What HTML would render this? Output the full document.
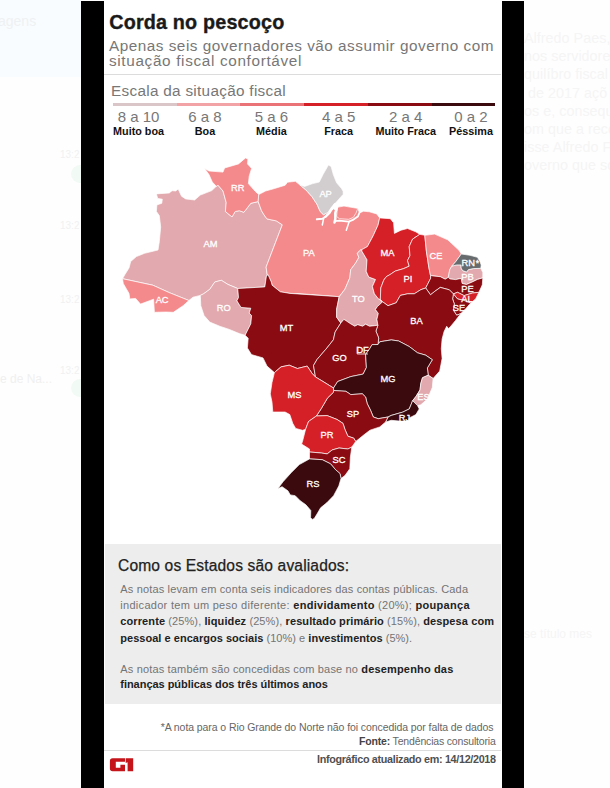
<!DOCTYPE html>
<html><head><meta charset="utf-8"><title>Corda no pescoço</title>
<style>
html,body{margin:0;padding:0;}
body{width:610px;height:788px;position:relative;overflow:hidden;background:#fefefe;font-family:"Liberation Sans",sans-serif;}
.bar{position:absolute;top:1px;height:787px;background:#000;}
.card{position:absolute;left:104px;top:0;width:398px;height:788px;background:#fff;}
.t{position:absolute;white-space:nowrap;line-height:20px;height:20px;}
.t b{color:#222;font-weight:700;}
#f2 b{color:#444;}
.map{position:absolute;left:0;top:0;}
.rule{position:absolute;height:1px;background:#dcdcdc;}
.seg{position:absolute;top:102.5px;height:3px;}
#h{-webkit-text-stroke:0.25px #222;}
#t1{-webkit-text-stroke:0.35px #1a1a1a;}
.ghost{position:absolute;color:#f3f3f3;white-space:nowrap;font-size:15px;line-height:18px;}
</style></head><body>
<div class="ghost" style="left:0;top:0;width:81px;height:77px;background:#f9fcfe"></div>
<div class="ghost" style="left:-2px;top:12px;font-size:14px;color:#eef1f3">agens</div>
<div class="ghost" style="left:60px;top:146px;font-size:10px;color:#f1f1f1">13:2</div>
<div class="ghost" style="left:60px;top:217px;font-size:10px;color:#f1f1f1">13:2</div>
<div class="ghost" style="left:60px;top:291px;font-size:10px;color:#f1f1f1">13:2</div>
<div class="ghost" style="left:60px;top:362px;font-size:10px;color:#f1f1f1">13:2</div>
<div class="ghost" style="left:0px;top:370px;font-size:12px;color:#f0f0f0">e de Na...</div>
<div class="ghost" style="left:524px;top:29px;font-size:14.4px;line-height:18.2px;color:#f5f5f5">Alfredo Paes,<br>nos servidores<br>quilíbro fiscal c<br>&nbsp;de 2017 açõ<br>os e, consequ<br>om que a rece<br>isse Alfredo F<br>overno que so</div>
<div class="ghost" style="left:524px;top:625px;font-size:12px;color:#f5f5f5">se título mes</div>
<div style="position:absolute;left:71px;top:165px;width:18px;height:18px;border-radius:9px;background:#f1faf4"></div>
<div style="position:absolute;left:71px;top:379px;width:18px;height:18px;border-radius:9px;background:#f1faf4"></div>
<div class="card"></div>
<div class="bar" style="left:81px;width:23px"></div>
<div class="bar" style="left:502px;width:22px"></div>
<div class="rule" style="left:104px;width:397px;top:74px"></div>
<div class="rule" style="left:104px;width:397px;top:750px"></div>
<div style="position:absolute;left:104.5px;top:544px;width:396.5px;height:160.4px;background:#ededed"></div>

<div class="seg" style="left:113.0px;width:63.9px;background:#dac6c9"></div>
<div class="seg" style="left:176.7px;width:63.9px;background:#f1a3a6"></div>
<div class="seg" style="left:240.4px;width:63.9px;background:#ea7378"></div>
<div class="seg" style="left:304.1px;width:63.9px;background:#d52027"></div>
<div class="seg" style="left:367.8px;width:63.9px;background:#8a0c12"></div>
<div class="seg" style="left:431.5px;width:63.9px;background:#3b0a0e"></div>
<div class="t" id="t1" style="top:11.74px;font-size:19.8px;color:#1a1a1a;font-weight:700;letter-spacing:0.170px;left:109.2px;">Corda no pescoço</div>
<div class="t" id="t2" style="top:35.70px;font-size:15.3px;color:#777;font-weight:400;letter-spacing:0.510px;left:109.0px;">Apenas seis governadores vão assumir governo com</div>
<div class="t" id="t3" style="top:51.10px;font-size:15.3px;color:#777;font-weight:400;letter-spacing:0.661px;left:109.0px;">situação fiscal confortável</div>
<div class="t" id="t4" style="top:80.70px;font-size:15.3px;color:#777;font-weight:400;letter-spacing:0.299px;left:111.0px;">Escala da situação fiscal</div>
<div class="t" id="n0" style="top:106.60px;font-size:15px;color:#777;font-weight:400;letter-spacing:0.000px;left:38.6px;width:200px;text-align:center;">8 a 10</div>
<div class="t" id="l0" style="top:120.56px;font-size:10.8px;color:#111;font-weight:700;letter-spacing:0.000px;left:38.6px;width:200px;text-align:center;">Muito boa</div>
<div class="t" id="n1" style="top:106.60px;font-size:15px;color:#777;font-weight:400;letter-spacing:0.000px;left:105.0px;width:200px;text-align:center;">6 a 8</div>
<div class="t" id="l1" style="top:120.56px;font-size:10.8px;color:#111;font-weight:700;letter-spacing:0.000px;left:105.0px;width:200px;text-align:center;">Boa</div>
<div class="t" id="n2" style="top:106.60px;font-size:15px;color:#777;font-weight:400;letter-spacing:0.000px;left:171.4px;width:200px;text-align:center;">5 a 6</div>
<div class="t" id="l2" style="top:120.56px;font-size:10.8px;color:#111;font-weight:700;letter-spacing:0.000px;left:171.4px;width:200px;text-align:center;">Média</div>
<div class="t" id="n3" style="top:106.60px;font-size:15px;color:#777;font-weight:400;letter-spacing:0.000px;left:238.6px;width:200px;text-align:center;">4 a 5</div>
<div class="t" id="l3" style="top:120.56px;font-size:10.8px;color:#111;font-weight:700;letter-spacing:0.000px;left:238.6px;width:200px;text-align:center;">Fraca</div>
<div class="t" id="n4" style="top:106.60px;font-size:15px;color:#777;font-weight:400;letter-spacing:0.000px;left:305.7px;width:200px;text-align:center;">2 a 4</div>
<div class="t" id="l4" style="top:120.56px;font-size:10.8px;color:#111;font-weight:700;letter-spacing:0.000px;left:305.7px;width:200px;text-align:center;">Muito Fraca</div>
<div class="t" id="n5" style="top:106.60px;font-size:15px;color:#777;font-weight:400;letter-spacing:0.000px;left:371.0px;width:200px;text-align:center;">0 a 2</div>
<div class="t" id="l5" style="top:120.56px;font-size:10.8px;color:#111;font-weight:700;letter-spacing:0.000px;left:371.0px;width:200px;text-align:center;">Péssima</div>
<div class="t" id="h" style="top:555.79px;font-size:15.6px;color:#222;font-weight:400;letter-spacing:0.136px;left:118.0px;">Como os Estados são avaliados:</div>
<div class="t" id="b1" style="top:578.69px;font-size:11px;color:#747474;font-weight:400;letter-spacing:0.157px;left:120.3px;">As notas levam em conta seis indicadores das contas públicas. Cada</div>
<div class="t" id="b2" style="top:595.19px;font-size:11px;color:#747474;font-weight:400;letter-spacing:0.293px;left:120.3px;">indicador tem um peso diferente: <b>endividamento</b> (20%); <b>poupança</b></div>
<div class="t" id="b3" style="top:611.49px;font-size:11px;color:#747474;font-weight:400;letter-spacing:0.101px;left:120.3px;"><b>corrente</b> (25%), <b>liquidez</b> (25%), <b>resultado primário</b> (15%), <b>despesa com</b></div>
<div class="t" id="b4" style="top:627.89px;font-size:11px;color:#747474;font-weight:400;letter-spacing:0.026px;left:120.3px;"><b>pessoal e encargos sociais</b> (10%) e <b>investimentos</b> (5%).</div>
<div class="t" id="b5" style="top:658.99px;font-size:11px;color:#747474;font-weight:400;letter-spacing:0.159px;left:120.3px;">As notas também são concedidas com base no <b>desempenho das</b></div>
<div class="t" id="b6" style="top:673.69px;font-size:11px;color:#747474;font-weight:400;letter-spacing:-0.038px;left:120.3px;"><b>finanças públicas dos três últimos anos</b></div>
<div class="t" id="f1" style="top:717.16px;font-size:10.5px;color:#666;font-weight:400;letter-spacing:-0.083px;left:160.7px;">*A nota para o Rio Grande do Norte não foi concedida por falta de dados</div>
<div class="t" id="f2" style="top:730.96px;font-size:10.5px;color:#666;font-weight:400;letter-spacing:-0.170px;left:359.0px;"><b>Fonte:</b> Tendências consultoria</div>
<div class="t" id="f3" style="top:749.46px;font-size:10.8px;color:#505050;font-weight:700;letter-spacing:-0.327px;left:317.0px;">Infográfico atualizado em: 14/12/2018</div>
<svg class="map" width="610" height="788" viewBox="0 0 610 788">
<g stroke="#fff" stroke-opacity="0.85" stroke-width="0.8" stroke-linejoin="round">
<polygon fill="#e2a9ae" points="156.4,193.9 169.2,193.0 172.1,190.7 175.7,191.0 178.2,189.0 181.5,196.2 185.6,198.9 194.6,200.0 200.3,195.1 211.8,190.6 216.3,186.3 218.0,185.2 223.0,191.0 226.2,202.5 225.4,211.5 232.0,216.9 235.2,211.5 239.3,210.7 243.9,212.3 250.8,203.3 258.2,201.6 261.5,210.7 264.1,215.0 267.0,218.9 276.4,220.9 282.3,224.8 266.1,267.1 267.2,274.6 266.4,276.2 264.8,286.9 237.7,288.5 227.9,284.4 221.3,280.3 214.8,282.0 209.8,289.3 203.6,293.8 200.3,295.4 193.0,297.2 188.9,300.5 169.2,292.6 152.8,285.2 122.5,278.7 124.9,274.6 129.0,268.0 130.7,261.5 136.4,256.6 144.6,253.3 158.0,250.0 159.3,241.8 160.7,227.0 159.3,215.6 156.4,211.5 156.9,204.9 161.8,203.3 162.3,199.2 157.7,198.4"/>
<polygon fill="#f58a8c" points="204.6,168.4 209.0,171.0 223.0,172.1 224.6,168.0 238.5,163.9 245.6,157.9 247.9,159.0 247.5,163.9 251.6,168.4 249.2,176.2 248.4,183.6 254.9,191.0 258.7,194.6 258.2,201.6 250.8,203.3 243.9,212.3 239.3,210.7 235.2,211.5 232.0,216.9 225.4,211.5 226.2,202.5 223.0,191.0 218.0,185.2 216.3,186.3 212.3,182.0 209.0,174.6"/>
<polygon fill="#f58a8c" points="258.7,194.6 265.6,191.0 274.6,188.5 285.2,185.2 287.5,182.2 295.4,181.3 299.7,184.8 306.2,190.2 312.0,196.7 316.9,204.1 320.2,211.5 323.4,214.7 337.0,207.0 344.0,206.1 357.8,208.4 359.5,213.0 363.5,211.2 369.3,211.8 376.7,213.9 379.7,217.9 378.0,225.2 373.1,235.9 367.4,246.6 361.6,249.8 360.5,250.0 357.2,253.3 358.9,257.4 355.6,263.1 350.7,269.7 349.8,277.9 344.9,289.3 339.2,296.7 300.0,293.7 290.0,293.4 280.3,291.8 272.1,285.2 271.3,282.0 268.0,274.6 267.2,274.6 266.1,267.1 282.3,224.8 276.4,220.9 267.0,218.9 264.1,215.0 261.5,210.7 258.2,201.6"/>
<polygon fill="#f58a8c" points="122.5,278.7 152.8,285.2 169.2,292.6 188.9,300.5 183.1,305.7 173.3,312.3 165.9,312.0 154.4,312.3 153.6,299.2 140.5,304.1 135.6,298.4 129.8,298.9 129.0,293.4 123.3,283.6"/>
<polygon fill="#e2a9ae" points="200.3,295.4 203.6,293.8 209.8,289.3 214.8,282.0 221.3,280.3 227.9,284.4 237.7,288.5 238.5,297.5 236.9,300.8 241.0,307.4 250.8,308.2 249.2,313.1 251.6,315.6 250.8,323.8 245.1,335.2 239.3,333.6 229.5,329.5 219.7,326.2 209.8,322.1 204.1,315.6 200.8,305.7"/>
<polygon fill="#8a0c12" points="237.7,288.5 264.8,286.9 266.4,276.2 268.0,274.6 271.3,282.0 272.1,285.2 280.3,291.8 290.0,293.4 339.2,296.7 336.7,309.0 336.7,317.2 340.8,323.0 335.1,332.0 333.4,339.8 326.9,348.0 317.0,359.5 313.5,365.5 315.5,377.0 312.1,373.4 307.2,366.1 297.4,368.5 289.2,365.2 281.0,366.9 274.4,372.6 267.0,366.1 263.0,357.9 251.5,354.6 247.4,348.0 248.2,338.2 245.1,335.2 250.8,323.8 251.6,315.6 249.2,313.1 250.8,308.2 241.0,307.4 236.9,300.8 238.5,297.5"/>
<polygon fill="#e2a9ae" points="361.6,249.8 362.1,251.6 367.0,259.8 366.2,271.3 368.7,277.0 375.5,279.5 372.4,286.5 374.4,293.8 378.3,298.7 380.3,299.7 382.3,302.1 377.4,306.5 375.4,309.5 378.3,313.4 376.9,319.3 377.9,325.2 374.4,325.7 369.5,326.2 365.6,324.2 362.6,326.2 357.7,324.7 354.7,326.2 349.8,323.3 346.9,321.3 343.9,319.3 340.8,323.0 336.7,317.2 336.7,309.0 339.2,296.7 344.9,289.3 349.8,277.9 350.7,269.7 355.6,263.1 358.9,257.4 357.2,253.3 360.5,250.0"/>
<polygon fill="#d52027" points="379.7,217.9 390.3,218.7 393.6,222.8 394.4,233.4 401.0,230.2 407.5,228.5 415.7,231.8 419.8,234.3 412.5,239.2 409.2,246.6 410.0,255.6 407.5,260.5 409.2,266.2 403.4,268.7 395.2,271.1 390.0,274.6 386.4,276.6 383.8,280.0 380.8,287.9 380.3,299.7 378.3,298.7 374.4,293.8 372.4,286.5 375.5,279.5 368.7,277.0 366.2,271.3 367.0,259.8 362.1,251.6 361.6,249.8 367.4,246.6 373.1,235.9 378.0,225.2"/>
<polygon fill="#d52027" points="419.8,234.3 424.8,235.3 426.4,251.3 428.9,267.7 430.5,275.5 430.7,278.2 425.7,288.0 420.8,289.7 414.3,293.8 407.7,293.8 400.3,295.4 396.2,302.8 388.0,305.7 382.3,301.6 380.3,299.7 380.8,287.9 383.8,280.0 386.4,276.6 390.0,274.6 395.2,271.1 403.4,268.7 409.2,266.2 407.5,260.5 410.0,255.6 409.2,246.6 412.5,239.2"/>
<polygon fill="#f58a8c" points="424.8,235.3 434.6,234.1 447.7,239.8 459.2,250.5 461.3,254.0 455.7,261.7 451.8,266.1 449.8,269.6 448.8,274.5 448.3,277.3 445.2,279.2 440.3,276.7 433.0,275.9 430.5,275.5 428.9,267.7 426.4,251.3"/>
<polygon fill="#e2a9ae" points="451.8,266.1 456.7,264.9 461.1,264.9 461.1,268.1 462.6,270.6 466.5,272.0 468.5,269.6 473.4,268.6 480.8,268.3 482.8,272.5 482.8,277.9 477.4,279.4 472.4,281.9 466.5,284.5 462.1,283.4 461.1,278.4 455.7,279.6 449.8,278.9 448.3,277.3 448.8,274.5 449.8,269.6"/>
<polygon fill="#676b6e" points="461.3,254.0 470.0,255.3 477.4,257.3 479.8,261.2 481.2,265.0 480.8,268.3 473.4,268.6 468.5,269.6 466.5,272.0 462.6,270.6 461.1,268.1 461.1,264.9 456.7,264.9 451.8,266.1 455.7,261.7"/>
<polygon fill="#8a0c12" points="430.5,275.5 433.0,275.9 440.3,276.7 445.2,279.2 448.3,277.3 449.8,278.9 455.7,279.6 461.1,278.4 462.1,283.4 466.5,284.5 472.4,281.9 477.4,279.4 482.8,277.9 482.3,284.8 478.9,292.3 472.3,293.1 464.1,295.6 457.5,292.3 453.4,293.9 449.3,289.8 440.3,287.4 434.6,291.5 430.5,294.8 425.7,288.0 430.7,278.2"/>
<polygon fill="#d52027" points="453.4,293.9 457.5,292.3 464.1,295.6 472.3,293.1 478.9,292.3 475.6,298.9 470.7,303.0 464.1,300.5 457.5,298.9"/>
<polygon fill="#8a0c12" points="453.4,293.9 457.5,298.9 464.1,300.5 470.7,303.0 465.7,308.7 460.8,313.6 456.7,315.2 453.4,310.3 454.3,303.8 452.6,298.9"/>
<polygon fill="#8a0c12" points="380.3,299.7 382.3,301.6 388.0,305.7 396.2,302.8 400.3,295.4 407.7,293.8 414.3,293.8 420.8,289.7 425.7,288.0 430.5,294.8 434.6,291.5 440.3,287.4 449.3,289.8 453.4,293.9 452.6,298.9 454.3,303.8 453.4,310.3 456.7,315.2 460.8,313.6 455.5,320.5 450.8,326.2 448.5,328.6 446.7,326.3 444.1,331.5 442.1,338.9 441.3,348.7 442.1,358.5 439.7,371.1 433.1,378.5 428.2,375.2 427.4,367.9 432.3,359.7 425.7,355.2 417.5,352.8 409.3,346.6 398.7,341.0 391.3,339.9 379.8,341.8 378.0,344.5 378.7,338.0 375.9,331.1 377.9,325.2 376.9,319.3 378.3,313.4 375.4,309.5 377.4,306.5 382.3,302.1"/>
<polygon fill="#8a0c12" points="340.8,323.0 343.9,319.3 346.9,321.3 349.8,323.3 354.7,326.2 357.7,324.7 362.6,326.2 365.6,324.2 369.5,326.2 374.4,325.7 377.9,325.2 375.9,331.1 378.7,338.0 378.0,344.5 372.1,344.6 369.7,348.7 365.6,354.4 366.4,367.5 363.1,374.1 350.8,376.6 337.7,381.5 333.5,388.0 323.0,381.5 315.5,377.0 313.5,365.5 317.0,359.5 326.9,348.0 333.4,339.8 335.1,332.0"/>
<polygon fill="#3b0a0e" points="333.5,388.0 337.7,381.5 350.8,376.6 363.1,374.1 366.4,367.5 365.6,354.4 369.7,348.7 372.1,344.6 378.0,344.5 379.8,341.8 391.3,339.9 398.7,341.0 409.3,346.6 417.5,352.8 425.7,355.2 432.3,359.7 427.4,367.9 428.2,375.2 422.5,377.7 420.8,383.4 420.0,390.0 415.9,396.6 412.6,400.7 409.3,408.9 402.8,412.1 391.3,415.4 388.0,417.0 378.2,418.7 373.3,417.0 370.5,410.2 367.2,403.6 365.6,397.0 362.3,393.8 350.8,394.6 345.9,391.3 333.6,390.5"/>
<polygon fill="#e2a9ae" points="428.2,375.2 433.1,378.5 432.3,387.5 427.4,399.0 420.8,404.8 417.5,405.6 412.6,400.7 415.9,396.6 420.0,390.0 420.8,383.4 422.5,377.7"/>
<polygon fill="#3b0a0e" points="412.6,400.7 417.5,405.6 419.2,408.9 415.9,414.6 409.3,417.9 408.5,421.1 399.5,421.1 391.3,420.3 385.6,422.0 388.0,417.0 391.3,415.4 402.8,412.1 409.3,408.9"/>
<polygon fill="#8a0c12" points="333.6,390.5 345.9,391.3 350.8,394.6 362.3,393.8 365.6,397.0 367.2,403.6 370.5,410.2 373.3,417.0 378.2,418.7 388.0,417.0 385.6,422.0 379.8,426.9 370.0,430.2 364.6,434.3 355.7,441.5 353.8,438.2 347.9,436.2 344.9,429.3 343.0,423.4 337.1,419.5 327.2,415.6 316.4,416.0 321.0,409.0 327.5,398.0 333.4,392.3"/>
<polygon fill="#d52027" points="274.4,372.6 281.0,366.9 289.2,365.2 297.4,368.5 307.2,366.1 312.1,373.4 315.5,377.0 323.0,381.5 333.5,388.0 333.6,390.5 333.4,392.3 327.5,398.0 321.0,409.0 316.4,416.0 308.5,421.5 305.6,429.3 302.6,430.3 295.7,428.4 292.8,423.4 289.8,414.6 285.1,412.0 272.8,412.0 272.0,402.1 270.3,393.9 272.0,382.5"/>
<polygon fill="#d52027" points="316.4,416.0 327.2,415.6 337.1,419.5 343.0,423.4 344.9,429.3 347.9,436.2 353.8,438.2 355.7,441.5 351.8,447.1 347.9,449.0 339.0,448.0 332.1,450.0 327.2,453.9 321.3,453.0 309.5,452.0 309.5,449.0 301.6,444.1 302.6,441.1 305.6,429.3 308.5,421.5"/>
<polygon fill="#8a0c12" points="309.5,452.0 321.3,453.0 327.2,453.9 332.1,450.0 339.0,448.0 347.9,449.0 351.8,447.1 350.4,456.9 349.8,468.7 344.9,475.6 341.0,478.5 340.0,473.6 335.4,469.5 330.5,463.8 322.3,459.7 309.5,458.9"/>
<polygon fill="#3b0a0e" points="309.5,458.9 322.3,459.7 330.5,463.8 335.4,469.5 340.0,473.6 341.0,478.5 338.8,485.9 333.6,495.7 327.0,502.6 320.6,507.8 317.0,514.0 314.2,518.6 312.2,519.4 310.6,517.6 310.8,510.5 305.9,504.8 300.2,500.7 295.2,495.7 290.3,494.9 287.9,490.8 282.1,486.7 278.0,488.4 283.0,481.8 291.1,472.8 299.3,464.6"/>
<polygon fill="#d2ced0" points="299.7,184.8 304.6,186.4 312.8,183.6 319.3,182.0 323.0,174.6 328.4,165.1 331.1,166.4 333.3,174.6 336.6,182.8 341.5,188.5 343.1,191.3 343.2,194.3 340.6,197.2 336.2,202.2 331.4,207.2 328.0,212.4 323.4,214.7 320.2,211.5 316.9,204.1 312.0,196.7 306.2,190.2"/>
<polygon fill="#f58a8c" points="337.7,207.2 344.0,206.1 357.8,208.4 356.1,212.9 353.2,217.5 348.6,219.3 339.4,218.7 336.6,216.4 337.1,211.8"/>
</g>
<g fill="none" stroke="#fff" stroke-linecap="round" stroke-linejoin="round">
<polyline stroke-width="2.4" points="334.8,204.5 332,208.6 329.4,212.9 325.6,216.6"/>
<polyline stroke-width="1.9" points="325.6,216.6 322.5,218.8 316.8,219.3"/>
<polyline stroke-width="1.5" points="323.6,218.6 322.3,225"/>
<polyline stroke-width="2.5" points="337,207 335.3,213 335.3,219 334.5,222.5"/>
<polyline stroke-width="1.8" points="335,221.2 339.4,220.6 348.6,221.6 353.5,219.6 357.8,216.6 359.8,212"/>
<polyline stroke-width="1.5" points="349.2,221.5 346.3,230.2"/>
</g>
<polygon fill="#fff" points="331.8,207.5 334.8,203 339,204.5 338,207.5 336.5,210 334.5,210 333.5,208.5"/>
<polyline fill="none" stroke="#fff" stroke-opacity="0.9" stroke-width="0.9" points="357.2,346.5 357.2,354 368,354"/>
<g fill="#fff" stroke="#fff" stroke-width="0.3" font-family="Liberation Sans, sans-serif" font-size="9.3" text-anchor="middle">
<text x="237.7" y="190.7">RR</text>
<text x="210.5" y="247.3">AM</text>
<text x="325.6" y="196.9">AP</text>
<text x="308.9" y="255.5">PA</text>
<text x="387.4" y="255.6">MA</text>
<text x="408.0" y="282.3">PI</text>
<text x="435.9" y="258.6">CE</text>
<text x="468.2" y="265.8">RN</text>
<text x="467.4" y="279.7">PB</text>
<text x="467.4" y="291.5">PE</text>
<text x="466.9" y="301.9">AL</text>
<text x="458.9" y="311.2">SE</text>
<text x="416.4" y="324.3">BA</text>
<text x="358.4" y="302.2">TO</text>
<text x="286.4" y="331.0">MT</text>
<text x="223.8" y="311.2">RO</text>
<text x="162.1" y="302.7">AC</text>
<text x="339.5" y="360.9">GO</text>
<text x="362.6" y="353.3">DF</text>
<text x="388.0" y="382.4">MG</text>
<text x="423.4" y="399.6">ES</text>
<text x="404.4" y="420.5">RJ</text>
<text x="353.0" y="416.6">SP</text>
<text x="327.0" y="437.9">PR</text>
<text x="339.0" y="463.0">SC</text>
<text x="312.9" y="486.8">RS</text>
<text x="294.6" y="397.8">MS</text>
<text x="477.4" y="266.3" font-size="8.5">*</text>
</g>
</svg>
<svg style="position:absolute;left:0;top:0" width="610" height="788" viewBox="0 0 610 788">
<path fill="#c5151b" d="M112.6,758.2 H125 V761.8 H115.8 V767.7 H120.4 V764.8 H125 V771.3 H112.6 Q109.9,771.3 109.9,768.6 V760.9 Q109.9,758.2 112.6,758.2 Z M125.7,758.2 H133.2 V771.3 H127.6 V762.3 L125.7,763.1 Z"/>
</svg>
</body></html>
